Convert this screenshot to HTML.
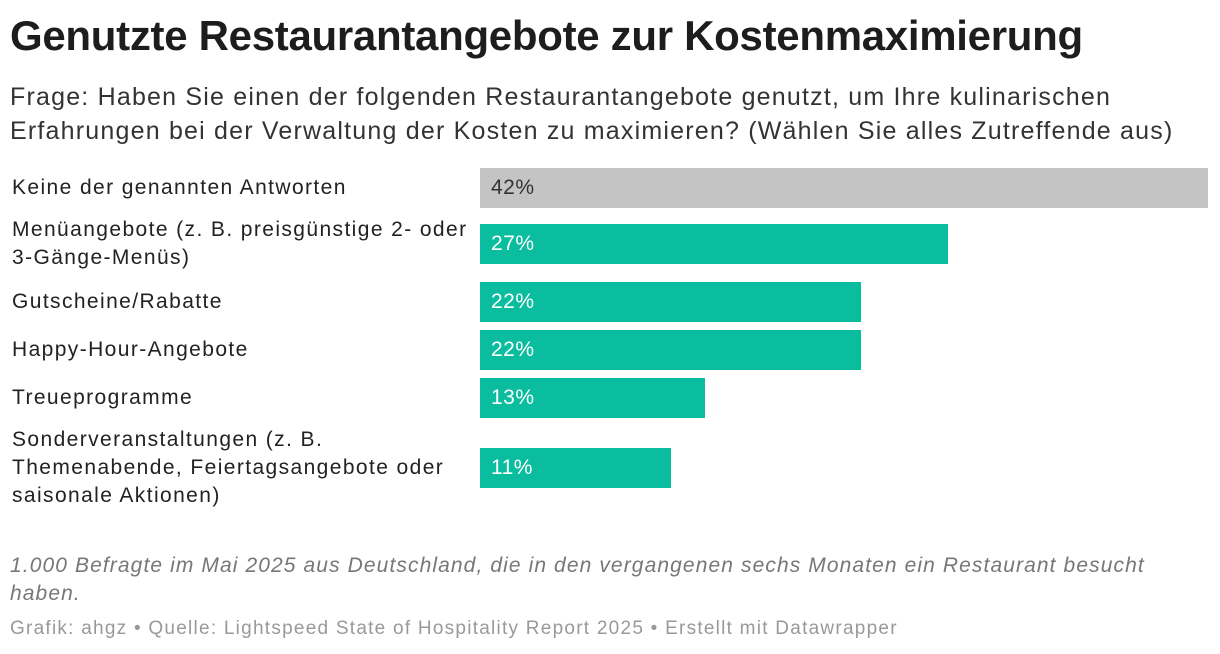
<!DOCTYPE html>
<html><head><meta charset="utf-8">
<style>
body{margin:0;width:1220px;height:654px;background:#fff;font-family:"Liberation Sans",sans-serif;position:relative;overflow:hidden;color:#1d1d1d}
.t{position:absolute;left:10px;top:12px;font-size:42px;font-weight:bold;letter-spacing:-0.3px;white-space:nowrap;line-height:48px}
.s{position:absolute;left:10px;top:80px;font-size:25px;line-height:34px;color:#333;letter-spacing:1.2px;white-space:nowrap}
.lab{position:absolute;left:12px;font-size:21px;line-height:28px;color:#222;width:462px;letter-spacing:1.4px}
.bar{position:absolute;left:480px;height:40px}
.val{position:absolute;font-size:21px;line-height:40px;padding-left:11px;letter-spacing:0.5px}
.n{position:absolute;left:10px;top:552px;font-size:21px;line-height:28px;font-style:italic;color:#777;width:1160px;letter-spacing:1.1px}
.f{position:absolute;left:10px;top:618px;font-size:19px;color:#999;letter-spacing:1.25px;white-space:nowrap}
</style></head><body>
<div class="t">Genutzte Restaurantangebote zur Kostenmaximierung</div>
<div class="s">Frage: Haben Sie einen der folgenden Restaurantangebote genutzt, um Ihre kulinarischen<br>Erfahrungen bei der Verwaltung der Kosten zu maximieren? (Wählen Sie alles Zutreffende aus)</div>
<div id="chart"></div>
<div class="n">1.000 Befragte im Mai 2025 aus Deutschland, die in den vergangenen sechs Monaten ein Restaurant besucht<br>haben.</div>
<div class="f">Grafik: ahgz • Quelle: Lightspeed State of Hospitality Report 2025 • Erstellt mit Datawrapper</div>
<script>
const categories=["Keine der genannten Antworten","Menüangebote (z. B. preisgünstige 2- oder 3-Gänge-Menüs)","Gutscheine/Rabatte","Happy-Hour-Angebote","Treueprogramme","Sonderveranstaltungen (z. B. Themenabende, Feiertagsangebote oder saisonale Aktionen)"];
const values=[42,27,22,22,13,11];
const barTops=[168,224,282,330,378,448];
const labelTops=[174,216,288,336,384,426];
const maxVal=42, plotW=728;
const x=v=>v/maxVal*plotW;
const c=document.getElementById('chart');
values.forEach((v,i)=>{
  const l=document.createElement('div');l.className='lab';l.style.top=labelTops[i]+'px';l.textContent=categories[i];
  if(i===1){l.innerHTML='Menüangebote (z. B. preisgünstige 2- oder<br>3-Gänge-Menüs)';}
  if(i===5){l.innerHTML='Sonderveranstaltungen (z. B.<br>Themenabende, Feiertagsangebote oder<br>saisonale Aktionen)';}
  
  
  c.appendChild(l);
  const b=document.createElement('div');b.className='bar';b.style.top=barTops[i]+'px';b.style.width=x(v)+'px';
  b.style.background=i===0?'#c4c4c4':'#0bbd9f';
  
  
  c.appendChild(b);
  const t=document.createElement('div');t.className='val';t.style.top=barTops[i]+'px';t.style.left='480px';
  t.style.color=i===0?'#333':'#fff';t.textContent=v+'%';
  
  
  c.appendChild(t);
});
</script>
</body></html>
